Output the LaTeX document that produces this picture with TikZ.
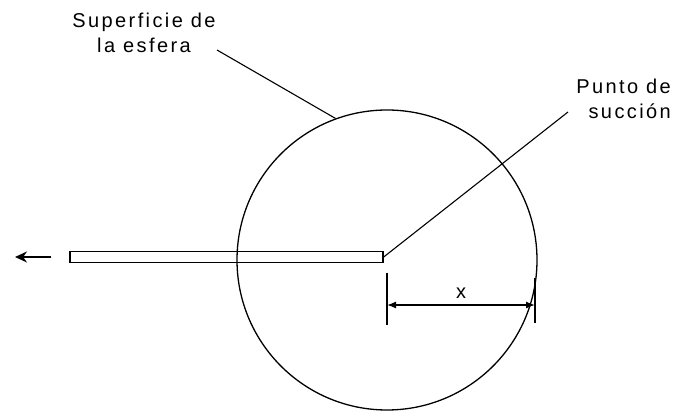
\documentclass[tikz,border=0pt]{standalone}
\usepackage{fontspec}
\newfontfamily\labelfont[LetterSpace=12]{Liberation Sans}
\usetikzlibrary{arrows.meta, positioning}

\begin{document}
\begin{tikzpicture}[x=1pt, y=-1pt,
  sphere/.style={circle, draw=black, line width=1.3pt, minimum size=300pt, inner sep=0pt},
  tube/.style={rectangle, draw=black, line width=1.4pt, minimum width=313pt,
               minimum height=11pt, inner sep=0pt},
  lbl/.style={font=\labelfont\fontsize{20}{25}\selectfont, inner sep=0pt},
  lead/.style={line width=1.1pt},
  pull/.style={-{Stealth[length=12pt, width=11pt]}, line width=1.6pt},
  extline/.style={line width=2.4pt},
  dimline/.style={{Latex[length=9pt, width=7pt]}-{Latex[length=9pt, width=7pt]}, line width=1.3pt}
]
\useasboundingbox (0,0) rectangle (677,411);

\node[sphere] (sphere) at (387,260) {};
\node[tube] (tube) at (226.5,257) {};

\node[lbl, align=center] (surf) at (144,33) {Superficie de\\la esfera};
\node[lbl, align=right, anchor=east] (suct) at (671,99) {Punto de\\succión};

\coordinate (surfend) at (217,50);
\coordinate (suctend) at (568,112);
\draw[lead] (surfend) -- (sphere.110);
\draw[lead] (tube.east) -- (suctend);

\coordinate (tail) at ([xshift=-18pt]tube.west);
\coordinate (head) at (15,257);
\draw[pull] (tail) -- (head);

\coordinate (xa) at (387,305);
\coordinate (xb) at (535,305);
\draw[extline] (387,273) -- (387,325);
\draw[extline] (535,278) -- (535,323);
\draw[dimline] (xa) -- (xb) node[midway, above=6pt, lbl] (xlbl) {x};

\end{tikzpicture}
\end{document}
